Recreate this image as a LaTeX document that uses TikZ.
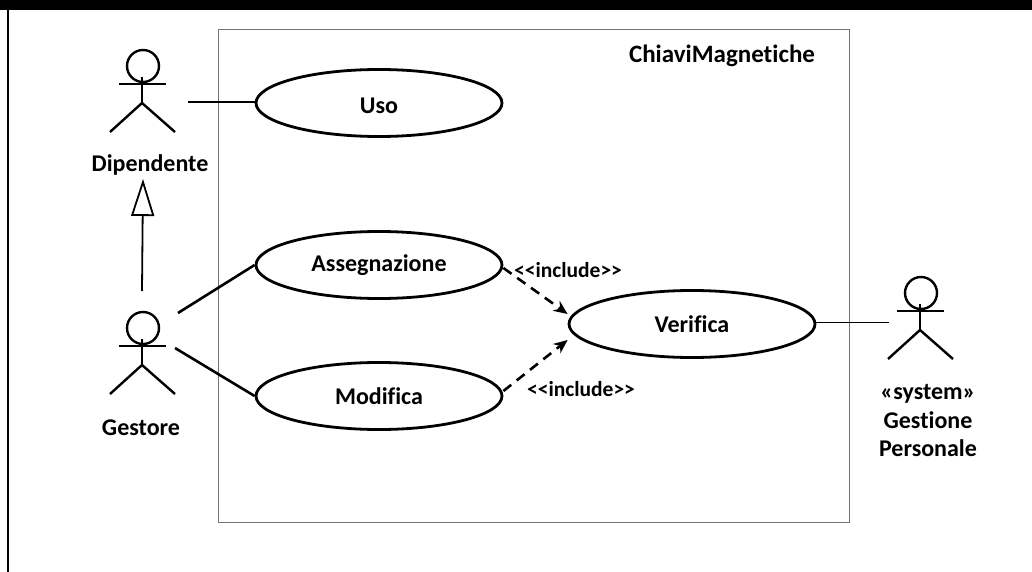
\documentclass[tikz,border=0pt]{standalone}
\usepackage{fontspec}
\setmainfont[Ligatures=NoCommon]{Carlito}
\usetikzlibrary{shapes.geometric,arrows.meta}
\tikzset{
  usecase/.style={draw=black,ellipse,line width=2.8pt,minimum width=246pt,minimum height=67pt,inner sep=0pt,font=\fontsize{24}{28}\selectfont\bfseries},
  assoc/.style={draw=black,line width=2.6pt},
  thinassoc/.style={draw=black,line width=1pt},
  incl/.style={draw=black,line width=2.6pt,dash pattern=on 10pt off 7pt,-{Stealth[length=14pt,width=12pt]}},
  gen/.style={draw=black,line width=1.8pt,-{Triangle[open,length=37pt,width=23pt,fill=white,line width=1.8pt]}},
  actorlimb/.style={draw=black,line width=2.4pt},
  head/.style={draw=black,circle,line width=2.4pt,minimum size=32pt,inner sep=0pt},
  actorlabel/.style={font=\fontsize{24}{28.5}\selectfont\bfseries,align=center,inner sep=0pt},
  incllabel/.style={font=\fontsize{21.5}{24}\selectfont\bfseries,inner sep=0pt}
}
\newcommand{\stickfigure}[3]{% name, x, y of head centre
  \node[head] (#1head) at (#2,#3) {};
  \draw[actorlimb] (#2-24,#3+18) -- (#2+23,#3+18);
  \draw[actorlimb] (#2-1,#3+11) -- (#2-1,#3+37);
  \draw[actorlimb] (#2-33,#3+66) -- (#2-1,#3+37) -- (#2+32,#3+66);
}
\begin{document}
\begin{tikzpicture}[x=1pt,y=-1pt]
\useasboundingbox (0,0) rectangle (1032,572);
\fill[black] (0,0) rectangle (1032,10.5);
\draw[line width=2.4pt] (8,10) -- (8,572);
\node[draw=black!55,line width=1pt,minimum width=631pt,minimum height=492pt,inner sep=0pt] (system) at (533.5,276) {};
\node[font=\fontsize{25}{28}\selectfont\bfseries,inner sep=0pt] (sysname) at (722,56) {ChiaviMagnetiche};

\stickfigure{dip}{143}{66}
\stickfigure{ges}{143}{328}
\stickfigure{ext}{921}{293}

\node[actorlabel] (diplabel) at (150,165) {Dipendente};
\node[actorlabel] (geslabel) at (141,428) {Gestore};
\node[actorlabel] (extlabel) at (928,421) {«system»\\Gestione\\Personale};

\node[usecase,text height=21pt,text depth=0pt] (uso) at (379,103) {Uso};
\node[usecase] (ass) at (379,265) {Assegnazione};
\node[usecase] (mod) at (379,396) {Modifica};
\node[usecase] (ver) at (692,324) {Verifica};

\coordinate (dipR) at (188,102);
\coordinate (gesA) at (178,313);
\coordinate (gesM) at (175,348);
\coordinate (gesT) at (142,291);
\coordinate (dipB) at (143,179);
\coordinate (extL) at (889,322);

\draw[assoc] (dipR) -- ([yshift=1pt]uso.west);
\draw[assoc] (gesA) -- (ass.west);
\draw[assoc] (gesM) -- (mod.west);
\draw[gen] (gesT) -- (dipB);
\draw[thinassoc] ([yshift=2pt]ver.east) -- (extL);
\draw[incl] ([yshift=-3pt]ass.east) -- ([yshift=10pt]ver.west);
\draw[incl] ([yshift=5pt]mod.east) -- ([yshift=-16pt]ver.west);

\node[incllabel] (inc1) at (568,270) {<{}<include>{}>};
\node[incllabel] (inc2) at (581,389) {<{}<include>{}>};
\end{tikzpicture}
\end{document}
